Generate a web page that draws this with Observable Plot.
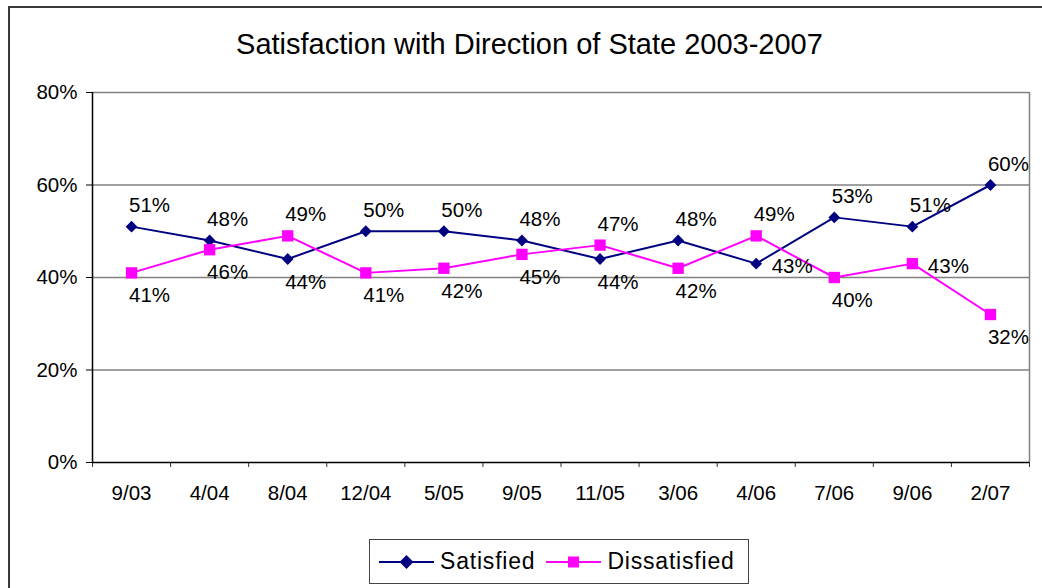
<!DOCTYPE html>
<html>
<head>
<meta charset="utf-8">
<script src="https://cdn.jsdelivr.net/npm/d3@7"></script>
<script src="https://cdn.jsdelivr.net/npm/@observablehq/plot@0.6"></script>
<style>
  html, body { margin: 0; padding: 0; background: #fff; overflow: hidden; }
  body { width: 1042px; height: 588px; position: relative; font-family: "Liberation Sans", Arial, sans-serif; }
  #frame { position: absolute; left: 8px; top: 6px; width: 1100px; height: 700px; border: 2px solid #3a3a3a; box-sizing: border-box; }
  #title { position: absolute; left: 0; width: 1059px; top: 30px; line-height: 29px; text-align: center; font-size: 29px; color: #000; white-space: nowrap; }
  #chart { position: absolute; left: 0; top: 0; }
  #legend { position: absolute; left: 369px; top: 539px; width: 380px; height: 45px; border: 1.5px solid #444; box-sizing: border-box; display: flex; align-items: center; font-size: 23px; }
  .item { display: flex; align-items: center; }
  .item span { margin-left: 6px; letter-spacing: 0.8px; }
</style>
</head>
<body>
<div id="frame"></div>
<div id="title">Satisfaction with Direction of State 2003-2007</div>
<div id="chart"></div>
<div id="legend"></div>
<script>
const categories = ["9/03","4/04","8/04","12/04","5/05","9/05","11/05","3/06","4/06","7/06","9/06","2/07"];
const satisfied    = [51, 48, 44, 50, 50, 48, 44, 48, 43, 53, 51, 60];
const dissatisfied = [41, 46, 49, 41, 42, 45, 47, 42, 49, 40, 43, 32];
const satisfiedLabelPos    = ["above","above","below","above","above","above","below","above","right","above","above","above"];
const dissatisfiedLabelPos = ["below","below","above","below","below","below","above","below","above","below","right","below"];
const yTicks = [0, 20, 40, 60, 80];
const seriesNames = ["Satisfied", "Dissatisfied"];
const seriesColors = ["#000080", "#ff00ff"];

const rows = [];
categories.forEach((c, i) => {
  rows.push({series: "Satisfied", i: i + 0.5, cat: c, v: satisfied[i], pos: satisfiedLabelPos[i]});
  rows.push({series: "Dissatisfied", i: i + 0.5, cat: c, v: dissatisfied[i], pos: dissatisfiedLabelPos[i]});
});
const sat = rows.filter(d => d.series === "Satisfied");
const dis = rows.filter(d => d.series === "Dissatisfied");

const offsets = {
  above: {dx: 18, dy: -21},
  below: {dx: 18, dy: 23},
  right: {dx: 36, dy: 3}
};
const labelMarks = Object.entries(offsets).map(([k, o]) =>
  Plot.text(rows.filter(d => d.pos === k), {
    x: "i", y: "v", text: d => d.v + "%", dx: o.dx, dy: o.dy,
    fontSize: 20.5, fill: "#000"
  })
);

const W = 1042, H = 510;
const plot = Plot.plot({
  width: W, height: H,
  marginLeft: 92, marginRight: 13, marginTop: 92, marginBottom: H - 462,
  style: {fontFamily: "'Liberation Sans', Arial, sans-serif", fontSize: "20px", color: "#000", background: "transparent"},
  x: {domain: [0, categories.length], axis: null},
  y: {domain: [0, 80], axis: null},
  marks: [
    Plot.gridY(yTicks.filter(t => t > 0), {stroke: "#808080", strokeOpacity: 1, strokeWidth: 1.3}),
    Plot.ruleX([categories.length], {stroke: "#808080", strokeWidth: 1.5}),
    Plot.axisY({ticks: yTicks, tickSize: 6, tickPadding: 9, tickFormat: d => d + "%", fontSize: 20.5, stroke: "#000", label: null}),
    Plot.axisX({ticks: d3.range(categories.length + 1), tickSize: 5, tickFormat: () => "", stroke: "#333", label: null}),
    Plot.axisX({ticks: categories.map((c, i) => i + 0.5), tickSize: 0, tickPadding: 23, tickFormat: t => categories[Math.floor(t)], fontSize: 20.5, label: null}),
    Plot.ruleY([0], {stroke: "#000", strokeWidth: 1.5}),
    Plot.ruleX([0], {stroke: "#000", strokeWidth: 1.5}),
    Plot.line(sat, {x: "i", y: "v", stroke: seriesColors[0], strokeWidth: 2}),
    Plot.line(dis, {x: "i", y: "v", stroke: seriesColors[1], strokeWidth: 2}),
    Plot.dot(sat, {x: "i", y: "v", symbol: "diamond2", r: 5.3, fill: seriesColors[0], stroke: "none"}),
    Plot.dot(dis, {x: "i", y: "v", symbol: "square", r: 6.4, fill: seriesColors[1], stroke: "none"}),
    ...labelMarks
  ]
});
document.getElementById("chart").appendChild(plot);

// Legend
const legend = d3.select("#legend");
seriesNames.forEach((name, k) => {
  const item = legend.append("div").attr("class", "item").style("margin-left", k === 0 ? "9px" : "11px");
  const svg = item.append("svg").attr("width", 55).attr("height", 20);
  svg.append("line").attr("x1", 0).attr("x2", 55).attr("y1", 10).attr("y2", 10)
    .attr("stroke", seriesColors[k]).attr("stroke-width", 2);
  if (k === 0) {
    svg.append("path").attr("d", "M27.5,3 L34.5,10 L27.5,17 L20.5,10 Z").attr("fill", seriesColors[k]);
  } else {
    svg.append("rect").attr("x", 22).attr("y", 4.5).attr("width", 11).attr("height", 11).attr("fill", seriesColors[k]);
  }
  item.append("span").text(name);
});
</script>
</body>
</html>
